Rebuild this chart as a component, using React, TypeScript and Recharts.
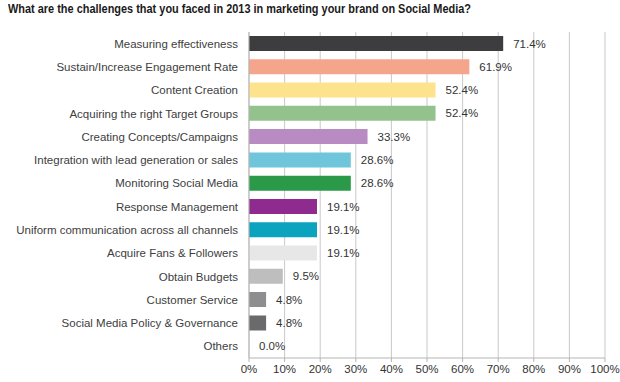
import React from 'react';
import { BarChart, Bar, XAxis, YAxis, CartesianGrid, Cell, LabelList } from 'recharts';

const categories = [
  'Measuring effectiveness',
  'Sustain/Increase Engagement Rate',
  'Content Creation',
  'Acquiring the right Target Groups',
  'Creating Concepts/Campaigns',
  'Integration with lead generation or sales',
  'Monitoring Social Media',
  'Response Management',
  'Uniform communication across all channels',
  'Acquire Fans & Followers',
  'Obtain Budgets',
  'Customer Service',
  'Social Media Policy & Governance',
  'Others',
];
const values = [71.4, 61.9, 52.4, 52.4, 33.3, 28.6, 28.6, 19.1, 19.1, 19.1, 9.5, 4.8, 4.8, 0.0];
const colors = [
  '#3d3d3f', '#f5a58b', '#fde38d', '#93c28c', '#b98bc3', '#6fc6da', '#2b9a48',
  '#8f2a8f', '#0ba3bd', '#e7e7e7', '#bebebe', '#8e8e90', '#6a6a6c', '#999999',
];
const xTicks = [0, 10, 20, 30, 40, 50, 60, 70, 80, 90, 100];
const boundaryTicks = [0, 1, 2, 3, 4, 5, 6, 7, 8, 9, 10, 11, 12, 13, 14];
const title = 'What are the challenges that you faced in 2013 in marketing your brand on Social Media?';

const data = categories.map((name, i) => ({ name, value: values[i] }));

const CatTick = (props: any) => {
  const { x, y, payload } = props;
  return (
    <text x={x} y={y} dy="0.355em" textAnchor="end" fill="#404040" fontSize={11.5} fontFamily='"Liberation Sans", Arial, sans-serif'>
      {payload.value}
    </text>
  );
};

const ValueLabel = (props: any) => {
  const { x, y, width, height, value } = props;
  return (
    <text x={Number(x) + Number(width) + 10} y={Number(y) + Number(height) / 2} dy="0.355em" textAnchor="start" fill="#333" fontSize={11.5} fontFamily='"Liberation Sans", Arial, sans-serif'>
      {`${Number(value).toFixed(1)}%`}
    </text>
  );
};

export default function App() {
  return (
    <div style={{ position: 'absolute', left: 0, top: 0, width: 620, height: 382, background: '#fff', fontFamily: '"Liberation Sans", Arial, sans-serif' }}>
      <div style={{ position: 'absolute', left: 8, top: 1, fontFamily: '"Liberation Sans", Arial, sans-serif', fontWeight: 'bold', fontSize: 13.5, color: '#1a1a1a', whiteSpace: 'nowrap', transform: 'scaleX(0.81)', transformOrigin: 'left top' }}>
        {title}
      </div>
      <div style={{ position: 'absolute', left: 0, top: 0 }}>
        <BarChart
          width={620}
          height={382}
          data={data}
          layout="vertical"
          margin={{ top: 32, right: 15, bottom: 0, left: 0 }}
          barCategoryGap="17%"
        >
          <CartesianGrid horizontal={false} vertical={true} stroke="#c9c9c9" />
          <XAxis
            type="number"
            domain={[0, 100]}
            ticks={xTicks}
            tickFormatter={(v: number) => `${v}%`}
            height={24}
            axisLine={{ stroke: '#b5b5b5' }}
            tickLine={{ stroke: '#b5b5b5' }}
            tickSize={4}
            tickMargin={3}
            tick={{ fill: '#333', fontSize: 11.5 }}
            interval={0}
          />
          <YAxis
            yAxisId="cat"
            type="category"
            dataKey="name"
            width={249}
            axisLine={{ stroke: '#b5b5b5' }}
            tickLine={false}
            tickSize={6}
            tickMargin={5}
            tick={<CatTick />}
            interval={0}
          />
          <YAxis
            yAxisId="bound"
            type="number"
            domain={[0, 14]}
            ticks={boundaryTicks}
            width={0}
            axisLine={false}
            tick={false}
            tickLine={{ stroke: '#b5b5b5' }}
            tickSize={4}
          />
          <Bar yAxisId="cat" dataKey="value" isAnimationActive={false} minPointSize={0.01}>
            {data.map((d, i) => (
              <Cell key={d.name} fill={colors[i]} />
            ))}
            <LabelList dataKey="value" content={<ValueLabel />} />
          </Bar>
        </BarChart>
      </div>
    </div>
  );
}
